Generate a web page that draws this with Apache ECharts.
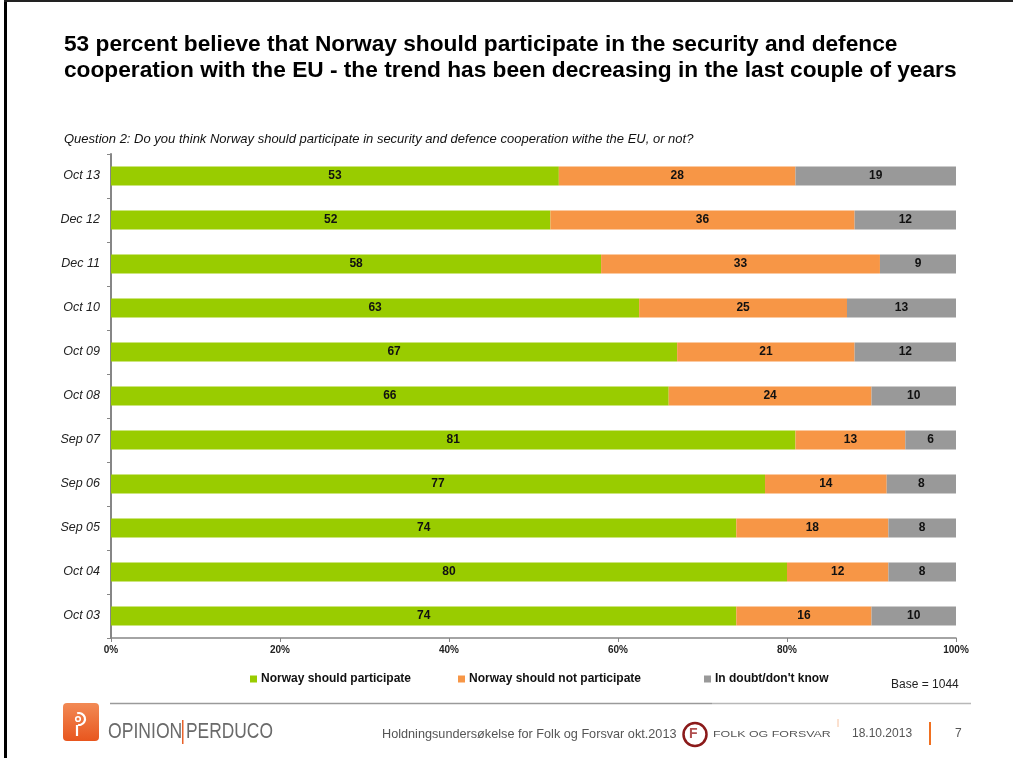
<!DOCTYPE html>
<html>
<head>
<meta charset="utf-8">
<script src="https://cdn.jsdelivr.net/npm/echarts@6/dist/echarts.min.js"></script>
<style>
html,body{margin:0;padding:0;background:#fff;}
#c{width:1013px;height:758px;}
</style>
</head>
<body>
<div id="c"></div>
<script>
const categories = ['Oct 13','Dec 12','Dec 11','Oct 10','Oct 09','Oct 08','Sep 07','Sep 06','Sep 05','Oct 04','Oct 03'];
// shares in percent (labels show rounded values)
const participate = [53,52,58,62.5,67,66,81,77.4,74,80,74];
const notParticipate = [28,36,33,24.6,21,24,13,14.4,18,12,16];
const inDoubt = [19,12,9,12.9,12,10,6,8.2,8,8,10];
const seriesNames = ['Norway should participate','Norway should not participate',"In doubt/don't know"];
const seriesColors = ['#99CC00','#F79646','#999999'];
const xTicks = [0,20,40,60,80,100];

const FONT = '"Liberation Sans", Arial, sans-serif';
const chart = echarts.init(document.getElementById('c'), null, {renderer:'canvas'});

function mkSeries(name, data, color){
  return {
    name: name, type:'bar', stack:'total', data:data, barWidth:19,
    itemStyle:{color:color},
    label:{show:true, position:'inside', color:'#111', fontWeight:'bold', fontSize:12, fontFamily:FONT,
      formatter:p=>String(Math.round(p.value))},
    emphasis:{disabled:true}
  };
}
const legendLefts = [245, 453, 699];
const option = {
  animation:false,
  backgroundColor:'#fff',
  title:{
    text:'53 percent believe that Norway should participate in the security and defence\ncooperation with the EU - the trend has been decreasing in the last couple of years',
    left:59, top:27,
    textStyle:{fontFamily:FONT, fontSize:22.7, fontWeight:'bold', color:'#000', lineHeight:26}
  },
  legend: seriesNames.map((n,i)=>({
    data:[n], left:legendLefts[i], top:668, icon:'rect', itemWidth:7, itemHeight:7, itemGap:10,
    selectedMode:false,
    textStyle:{fontFamily:FONT, fontSize:12, fontWeight:'bold', color:'#111', padding:[0,0,0,-1]}
  })),
  grid:{left:111, right:57, top:154, bottom:120, containLabel:false},
  xAxis:{
    type:'value', min:xTicks[0], max:xTicks[xTicks.length-1], interval:20,
    axisLine:{show:true, lineStyle:{color:'#868686', width:1.5}},
    axisTick:{show:true, length:4, lineStyle:{color:'#868686'}},
    splitLine:{show:false},
    axisLabel:{formatter:'{value}%', fontFamily:FONT, fontSize:10, fontWeight:'bold', color:'#222', margin:7}
  },
  yAxis:{
    type:'category', data:categories, inverse:true,
    axisLine:{show:true, lineStyle:{color:'#868686', width:2}},
    axisTick:{show:true, length:4, lineStyle:{color:'#868686'}},
    axisLabel:{fontFamily:FONT, fontSize:12.5, fontStyle:'italic', color:'#222', margin:11}
  },
  series:[
    mkSeries(seriesNames[0], participate, seriesColors[0]),
    mkSeries(seriesNames[1], notParticipate, seriesColors[1]),
    mkSeries(seriesNames[2], inDoubt, seriesColors[2])
  ],
  graphic:[
    // frame
    {type:'rect', shape:{x:4,y:0,width:3,height:758}, style:{fill:'#000'}, silent:true},
    {type:'rect', shape:{x:4,y:0,width:1009,height:2}, style:{fill:'#222'}, silent:true},
    // question
    {type:'text', left:64, top:133, style:{text:'Question 2: Do you think Norway should participate in security and defence cooperation withe the EU, or not?', font:'italic 13px '+FONT, fill:'#111'}},
    // base
    {type:'text', left:891, top:679, style:{text:'Base = 1044', font:'12px '+FONT, fill:'#222'}},
    // footer lines
    {type:'line', shape:{x1:110,y1:703.5,x2:712,y2:703.5}, style:{stroke:'#9a9a9a', lineWidth:1.5}, silent:true},
    {type:'line', shape:{x1:712,y1:703.5,x2:971,y2:703.5}, style:{stroke:'#b8b8b8', lineWidth:1.5}, silent:true},
    // opinion logo
    {type:'rect', shape:{x:63,y:703,width:36,height:38,r:4}, style:{fill:new echarts.graphic.LinearGradient(0,0,0,1,[{offset:0,color:'#F28A55'},{offset:1,color:'#E8561E'}])}, silent:true},
    {type:'arc', shape:{cx:79,cy:719,r:6,startAngle:-Math.PI*0.6,endAngle:Math.PI*0.55}, style:{stroke:'#fff', lineWidth:2.2, fill:null}, silent:true},
    {type:'circle', shape:{cx:78,cy:719,r:2.3}, style:{stroke:'#fff', lineWidth:1.6, fill:null}, silent:true},
    {type:'line', shape:{x1:77,y1:725,x2:77,y2:736}, style:{stroke:'#fff', lineWidth:2.2}, silent:true},
    {type:'text', x:108, y:721, scaleX:0.8, style:{text:'OPINION', font:'22px '+FONT, fill:'#6a6a6a'}},
    {type:'rect', shape:{x:182,y:720,width:1.5,height:24}, style:{fill:'#E8622A'}, silent:true},
    {type:'text', x:186, y:721, scaleX:0.79, style:{text:'PERDUCO', font:'22px '+FONT, fill:'#6a6a6a'}},
    // footer text
    {type:'text', x:382, y:728, scaleX:0.975, style:{text:'Holdningsundersøkelse for Folk og Forsvar okt.2013', font:'13px '+FONT, fill:'#555'}},
    {type:'circle', shape:{cx:695,cy:734.5,r:11.5}, style:{stroke:'#8B1A1A', lineWidth:2.5, fill:'#fff'}, silent:true},
    {type:'text', left:689, top:727, style:{text:'F', font:'bold 14px '+FONT, fill:'#b05050'}},
    {type:'text', x:713, y:730, scaleX:1.38, style:{text:'FOLK OG FORSVAR', font:'9px '+FONT, fill:'#555'}},
    {type:'line', shape:{x1:838,y1:719,x2:838,y2:727}, style:{stroke:'#F7C2A0', lineWidth:1}, silent:true},
    {type:'text', left:852, top:728, style:{text:'18.10.2013', font:'12px '+FONT, fill:'#555'}},
    {type:'rect', shape:{x:929,y:722,width:2,height:23}, style:{fill:'#F07020'}, silent:true},
    {type:'text', left:955, top:728, style:{text:'7', font:'12px '+FONT, fill:'#555'}}
  ]
};
chart.setOption(option);
</script>
</body>
</html>
